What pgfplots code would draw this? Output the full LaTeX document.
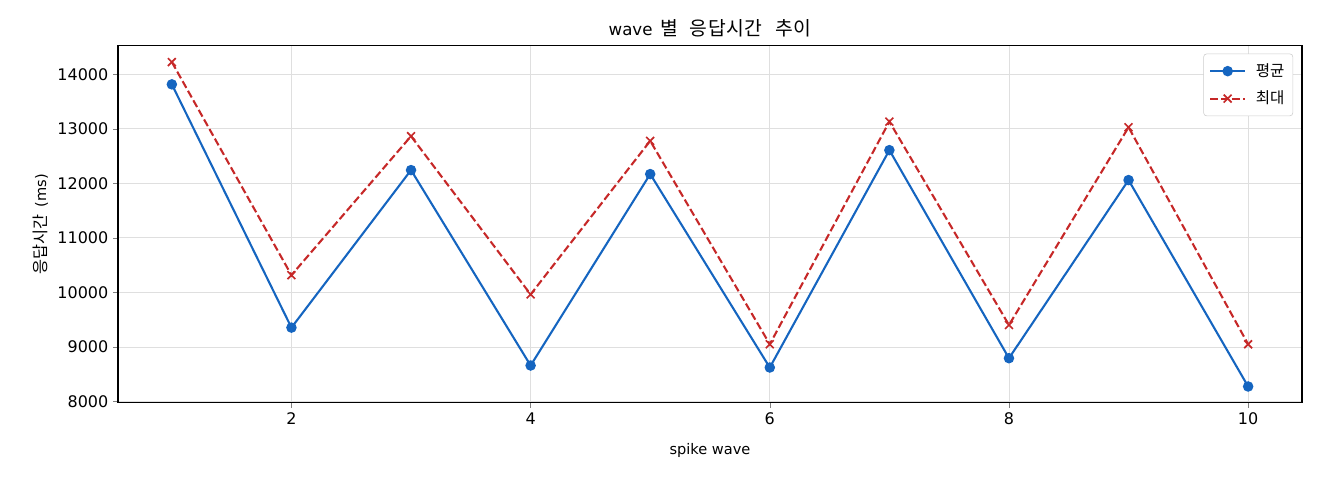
\documentclass[border=0pt]{standalone}
\usepackage{pgfplots}
\pgfplotsset{compat=1.18}
\usepackage{fontspec}
\setmainfont{DejaVu Sans}
\newfontfamily\kr{Noto Sans CJK KR}[Scale=1.12]
\newfontfamily\krt{Noto Sans CJK KR}[Scale=1.16, LetterSpace=3]
\definecolor{cblue}{HTML}{1565C0}
\definecolor{cred}{HTML}{C62828}
\begin{document}
\begin{tikzpicture}
\begin{axis}[
  scale only axis,
  width=852.5pt, height=257pt,
  xmin=0.55, xmax=10.45,
  ymin=7976, ymax=14524,
  xtick={2,4,6,8,10},
  ytick={8000,9000,10000,11000,12000,13000,14000},
  scaled ticks=false,
  /pgf/number format/1000 sep={},
  /pgf/number format/assume math mode=true,
  tick label style={font=\fontsize{11.5}{13}\selectfont},
  tick align=outside,
  tick pos=left,
  major tick length=3.5pt,
  grid=major,
  grid style={gray!25, line width=0.6pt},
  axis line style={line width=0.8pt},
  title={wave\hspace{6pt}{\krt 별}\hspace{8pt}{\krt 응답시간}\hspace{9pt}{\krt 추이}},
  title style={font=\fontsize{12}{14}\selectfont, yshift=-3.5pt},
  xlabel={spike wave},
  ylabel={{\kr 응답시간}\hspace{5pt}(ms)},
  xlabel style={yshift=-7pt},
  ylabel style={yshift=0pt},
  label style={font=\fontsize{10.5}{12}\selectfont},
  legend style={at={(0.9925,0.978)}, anchor=north east, draw=gray!40, rounded corners=2pt, font=\fontsize{10}{12}\selectfont, row sep=5pt, inner xsep=4pt, inner ysep=5pt},
  legend image code/.code={
    \draw[mark repeat=2, mark phase=2, #1] plot coordinates {(0cm,0cm) (0.44cm,0cm) (0.88cm,0cm)};
  },
  legend cell align=left,
]
\addplot[cblue, line width=1.5pt, mark=*, mark size=3pt] coordinates {
 (1,13817) (2,9354) (3,12244) (4,8659) (5,12171) (6,8622) (7,12610) (8,8793) (9,12061) (10,8274)};
\addlegendentry{\hspace{5pt}{\kr 평균}}
\addplot[cred, line width=1.5pt, dash pattern=on 5.5pt off 2.4pt, mark=x, mark size=4pt, mark options={solid, line width=1.2pt}] coordinates {
 (1,14226) (2,10317) (3,12866) (4,9963) (5,12780) (6,9049) (7,13134) (8,9402) (9,13030) (10,9049)};
\addlegendentry{\hspace{5pt}{\kr 최대}}
\end{axis}
\pgfresetboundingbox
\path ([shift={(-85pt,-55.5pt)}]current axis.south west) rectangle ([shift={(13pt,33pt)}]current axis.north east);
\end{tikzpicture}
\end{document}
